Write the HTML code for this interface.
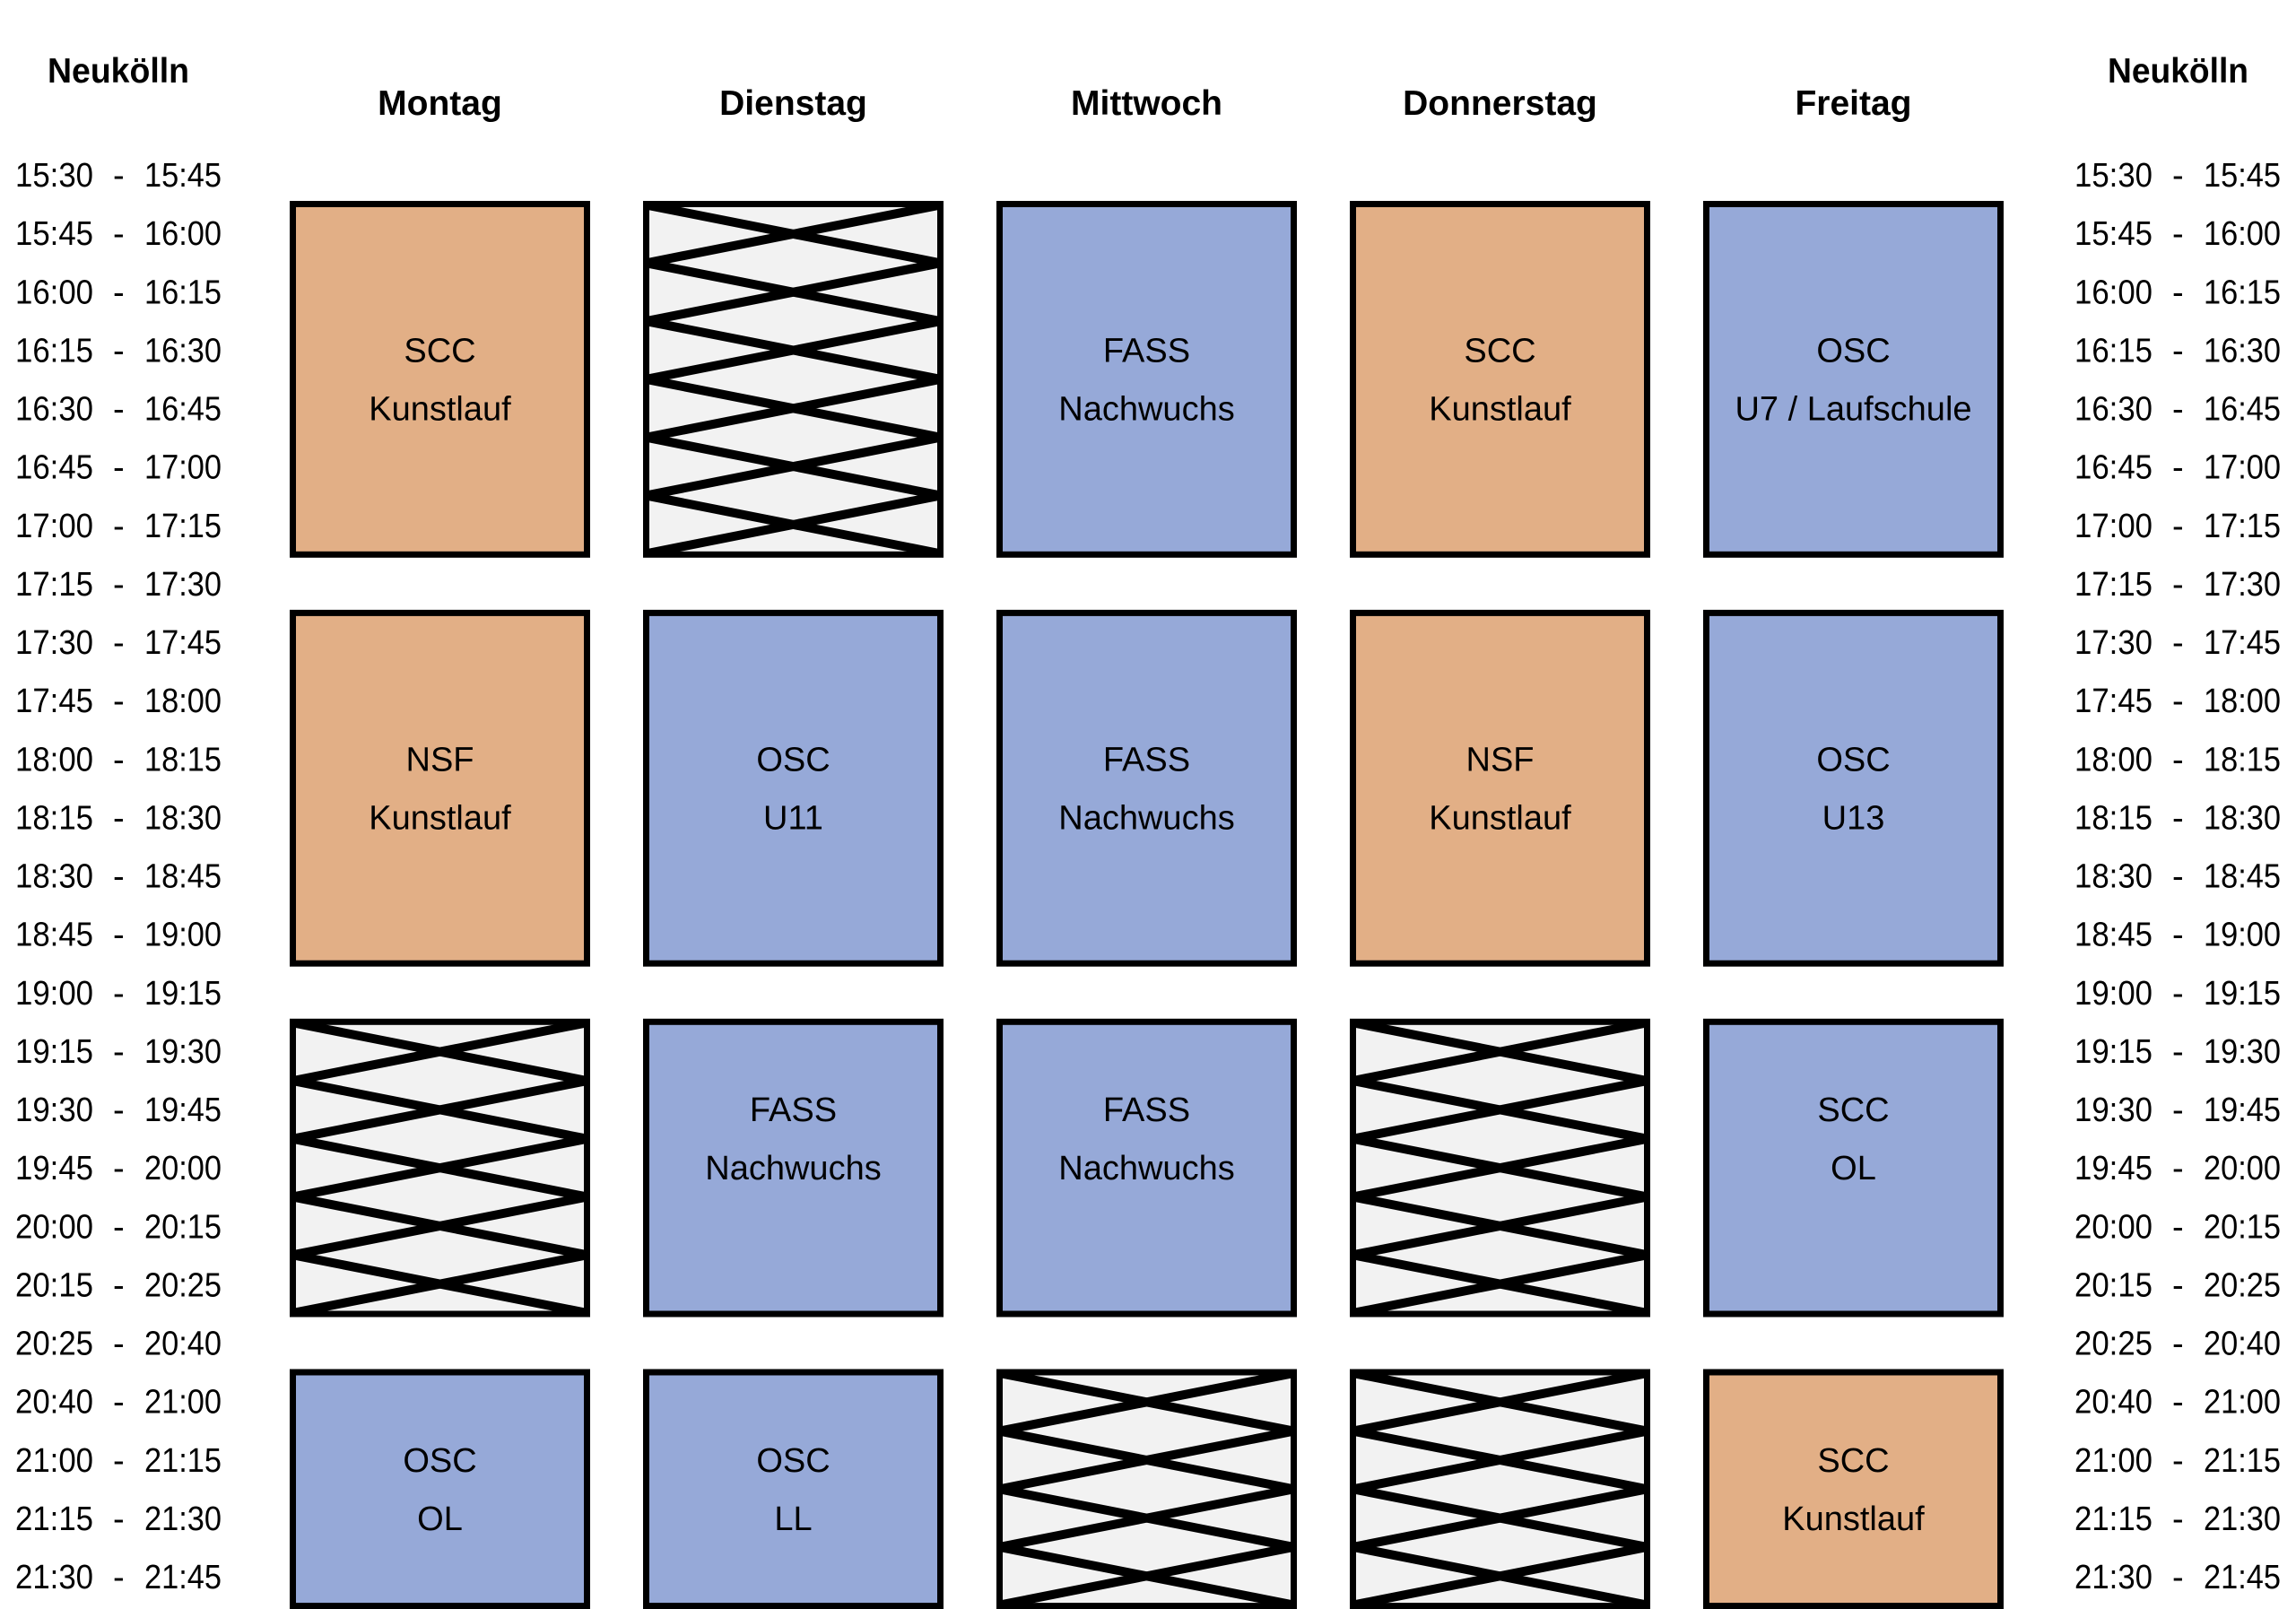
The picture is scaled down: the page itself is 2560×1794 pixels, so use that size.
<!DOCTYPE html>
<html>
<head>
<meta charset="utf-8">
<style>
  html, body { margin: 0; padding: 0; background: #ffffff; }
  svg { display: block; }
  .t { font-family: "Liberation Sans", Arial, sans-serif; font-size: 38px; fill: #000; }
  .h { font-family: "Liberation Sans", Arial, sans-serif; font-size: 39px; font-weight: bold; fill: #000; }
  .bx { font-family: "Liberation Sans", Arial, sans-serif; font-size: 38px; fill: #000; text-anchor: middle; }
  .or { fill: #E2AF86; stroke: #000; stroke-width: 7; }
  .bl { fill: #96A9D8; stroke: #000; stroke-width: 7; }
  .hf { fill: #F2F2F2; }
  .hb { fill: none; stroke: #000; stroke-width: 7; }
  .hl { fill: none; stroke: #000; stroke-width: 10; stroke-linejoin: miter; }
</style>
</head>
<body>
<svg xmlns="http://www.w3.org/2000/svg" width="2560" height="1794" viewBox="0 0 2560 1794">
  <rect x="0" y="0" width="2560" height="1794" fill="#ffffff"/>

  <defs>
    <clipPath id="cDiA"><rect x="720.5" y="227.5" width="328" height="390.8"/></clipPath>
    <clipPath id="cMoC"><rect x="326.5" y="1139.3" width="328" height="325.7"/></clipPath>
    <clipPath id="cDoC"><rect x="1508.5" y="1139.3" width="328" height="325.7"/></clipPath>
    <clipPath id="cMiD"><rect x="1114.5" y="1530" width="328" height="260.6"/></clipPath>
    <clipPath id="cDoD"><rect x="1508.5" y="1530" width="328" height="260.6"/></clipPath>
  </defs>

  <!-- Headers -->
  <text class="h" x="53" y="92" textLength="158" lengthAdjust="spacingAndGlyphs">Neukölln</text>
  <text class="h" x="2350" y="92" textLength="157" lengthAdjust="spacingAndGlyphs">Neukölln</text>
  <text class="h" x="490.5" y="128" text-anchor="middle">Montag</text>
  <text class="h" x="884.5" y="128" text-anchor="middle">Dienstag</text>
  <text class="h" x="1278.5" y="128" text-anchor="middle">Mittwoch</text>
  <text class="h" x="1672.5" y="128" text-anchor="middle">Donnerstag</text>
  <text class="h" x="2066.5" y="128" text-anchor="middle">Freitag</text>

  <!-- Left time labels -->
  <g class="t">
    <text x="17" y="208" textLength="87" lengthAdjust="spacingAndGlyphs">15:30</text><text x="126" y="208">-</text><text x="161" y="208" textLength="86" lengthAdjust="spacingAndGlyphs">15:45</text>
    <text x="17" y="273.1" textLength="87" lengthAdjust="spacingAndGlyphs">15:45</text><text x="126" y="273.1">-</text><text x="161" y="273.1" textLength="86" lengthAdjust="spacingAndGlyphs">16:00</text>
    <text x="17" y="338.3" textLength="87" lengthAdjust="spacingAndGlyphs">16:00</text><text x="126" y="338.3">-</text><text x="161" y="338.3" textLength="86" lengthAdjust="spacingAndGlyphs">16:15</text>
    <text x="17" y="403.4" textLength="87" lengthAdjust="spacingAndGlyphs">16:15</text><text x="126" y="403.4">-</text><text x="161" y="403.4" textLength="86" lengthAdjust="spacingAndGlyphs">16:30</text>
    <text x="17" y="468.5" textLength="87" lengthAdjust="spacingAndGlyphs">16:30</text><text x="126" y="468.5">-</text><text x="161" y="468.5" textLength="86" lengthAdjust="spacingAndGlyphs">16:45</text>
    <text x="17" y="533.6" textLength="87" lengthAdjust="spacingAndGlyphs">16:45</text><text x="126" y="533.6">-</text><text x="161" y="533.6" textLength="86" lengthAdjust="spacingAndGlyphs">17:00</text>
    <text x="17" y="598.8" textLength="87" lengthAdjust="spacingAndGlyphs">17:00</text><text x="126" y="598.8">-</text><text x="161" y="598.8" textLength="86" lengthAdjust="spacingAndGlyphs">17:15</text>
    <text x="17" y="663.9" textLength="87" lengthAdjust="spacingAndGlyphs">17:15</text><text x="126" y="663.9">-</text><text x="161" y="663.9" textLength="86" lengthAdjust="spacingAndGlyphs">17:30</text>
    <text x="17" y="729" textLength="87" lengthAdjust="spacingAndGlyphs">17:30</text><text x="126" y="729">-</text><text x="161" y="729" textLength="86" lengthAdjust="spacingAndGlyphs">17:45</text>
    <text x="17" y="794.1" textLength="87" lengthAdjust="spacingAndGlyphs">17:45</text><text x="126" y="794.1">-</text><text x="161" y="794.1" textLength="86" lengthAdjust="spacingAndGlyphs">18:00</text>
    <text x="17" y="859.3" textLength="87" lengthAdjust="spacingAndGlyphs">18:00</text><text x="126" y="859.3">-</text><text x="161" y="859.3" textLength="86" lengthAdjust="spacingAndGlyphs">18:15</text>
    <text x="17" y="924.4" textLength="87" lengthAdjust="spacingAndGlyphs">18:15</text><text x="126" y="924.4">-</text><text x="161" y="924.4" textLength="86" lengthAdjust="spacingAndGlyphs">18:30</text>
    <text x="17" y="989.5" textLength="87" lengthAdjust="spacingAndGlyphs">18:30</text><text x="126" y="989.5">-</text><text x="161" y="989.5" textLength="86" lengthAdjust="spacingAndGlyphs">18:45</text>
    <text x="17" y="1054.6" textLength="87" lengthAdjust="spacingAndGlyphs">18:45</text><text x="126" y="1054.6">-</text><text x="161" y="1054.6" textLength="86" lengthAdjust="spacingAndGlyphs">19:00</text>
    <text x="17" y="1119.8" textLength="87" lengthAdjust="spacingAndGlyphs">19:00</text><text x="126" y="1119.8">-</text><text x="161" y="1119.8" textLength="86" lengthAdjust="spacingAndGlyphs">19:15</text>
    <text x="17" y="1184.9" textLength="87" lengthAdjust="spacingAndGlyphs">19:15</text><text x="126" y="1184.9">-</text><text x="161" y="1184.9" textLength="86" lengthAdjust="spacingAndGlyphs">19:30</text>
    <text x="17" y="1250" textLength="87" lengthAdjust="spacingAndGlyphs">19:30</text><text x="126" y="1250">-</text><text x="161" y="1250" textLength="86" lengthAdjust="spacingAndGlyphs">19:45</text>
    <text x="17" y="1315.1" textLength="87" lengthAdjust="spacingAndGlyphs">19:45</text><text x="126" y="1315.1">-</text><text x="161" y="1315.1" textLength="86" lengthAdjust="spacingAndGlyphs">20:00</text>
    <text x="17" y="1380.3" textLength="87" lengthAdjust="spacingAndGlyphs">20:00</text><text x="126" y="1380.3">-</text><text x="161" y="1380.3" textLength="86" lengthAdjust="spacingAndGlyphs">20:15</text>
    <text x="17" y="1445.4" textLength="87" lengthAdjust="spacingAndGlyphs">20:15</text><text x="126" y="1445.4">-</text><text x="161" y="1445.4" textLength="86" lengthAdjust="spacingAndGlyphs">20:25</text>
    <text x="17" y="1510.5" textLength="87" lengthAdjust="spacingAndGlyphs">20:25</text><text x="126" y="1510.5">-</text><text x="161" y="1510.5" textLength="86" lengthAdjust="spacingAndGlyphs">20:40</text>
    <text x="17" y="1575.6" textLength="87" lengthAdjust="spacingAndGlyphs">20:40</text><text x="126" y="1575.6">-</text><text x="161" y="1575.6" textLength="86" lengthAdjust="spacingAndGlyphs">21:00</text>
    <text x="17" y="1640.8" textLength="87" lengthAdjust="spacingAndGlyphs">21:00</text><text x="126" y="1640.8">-</text><text x="161" y="1640.8" textLength="86" lengthAdjust="spacingAndGlyphs">21:15</text>
    <text x="17" y="1705.9" textLength="87" lengthAdjust="spacingAndGlyphs">21:15</text><text x="126" y="1705.9">-</text><text x="161" y="1705.9" textLength="86" lengthAdjust="spacingAndGlyphs">21:30</text>
    <text x="17" y="1771" textLength="87" lengthAdjust="spacingAndGlyphs">21:30</text><text x="126" y="1771">-</text><text x="161" y="1771" textLength="86" lengthAdjust="spacingAndGlyphs">21:45</text>
  </g>

  <!-- Right time labels -->
  <g class="t">
    <text x="2313" y="208" textLength="87" lengthAdjust="spacingAndGlyphs">15:30</text><text x="2422" y="208">-</text><text x="2457" y="208" textLength="86" lengthAdjust="spacingAndGlyphs">15:45</text>
    <text x="2313" y="273.1" textLength="87" lengthAdjust="spacingAndGlyphs">15:45</text><text x="2422" y="273.1">-</text><text x="2457" y="273.1" textLength="86" lengthAdjust="spacingAndGlyphs">16:00</text>
    <text x="2313" y="338.3" textLength="87" lengthAdjust="spacingAndGlyphs">16:00</text><text x="2422" y="338.3">-</text><text x="2457" y="338.3" textLength="86" lengthAdjust="spacingAndGlyphs">16:15</text>
    <text x="2313" y="403.4" textLength="87" lengthAdjust="spacingAndGlyphs">16:15</text><text x="2422" y="403.4">-</text><text x="2457" y="403.4" textLength="86" lengthAdjust="spacingAndGlyphs">16:30</text>
    <text x="2313" y="468.5" textLength="87" lengthAdjust="spacingAndGlyphs">16:30</text><text x="2422" y="468.5">-</text><text x="2457" y="468.5" textLength="86" lengthAdjust="spacingAndGlyphs">16:45</text>
    <text x="2313" y="533.6" textLength="87" lengthAdjust="spacingAndGlyphs">16:45</text><text x="2422" y="533.6">-</text><text x="2457" y="533.6" textLength="86" lengthAdjust="spacingAndGlyphs">17:00</text>
    <text x="2313" y="598.8" textLength="87" lengthAdjust="spacingAndGlyphs">17:00</text><text x="2422" y="598.8">-</text><text x="2457" y="598.8" textLength="86" lengthAdjust="spacingAndGlyphs">17:15</text>
    <text x="2313" y="663.9" textLength="87" lengthAdjust="spacingAndGlyphs">17:15</text><text x="2422" y="663.9">-</text><text x="2457" y="663.9" textLength="86" lengthAdjust="spacingAndGlyphs">17:30</text>
    <text x="2313" y="729" textLength="87" lengthAdjust="spacingAndGlyphs">17:30</text><text x="2422" y="729">-</text><text x="2457" y="729" textLength="86" lengthAdjust="spacingAndGlyphs">17:45</text>
    <text x="2313" y="794.1" textLength="87" lengthAdjust="spacingAndGlyphs">17:45</text><text x="2422" y="794.1">-</text><text x="2457" y="794.1" textLength="86" lengthAdjust="spacingAndGlyphs">18:00</text>
    <text x="2313" y="859.3" textLength="87" lengthAdjust="spacingAndGlyphs">18:00</text><text x="2422" y="859.3">-</text><text x="2457" y="859.3" textLength="86" lengthAdjust="spacingAndGlyphs">18:15</text>
    <text x="2313" y="924.4" textLength="87" lengthAdjust="spacingAndGlyphs">18:15</text><text x="2422" y="924.4">-</text><text x="2457" y="924.4" textLength="86" lengthAdjust="spacingAndGlyphs">18:30</text>
    <text x="2313" y="989.5" textLength="87" lengthAdjust="spacingAndGlyphs">18:30</text><text x="2422" y="989.5">-</text><text x="2457" y="989.5" textLength="86" lengthAdjust="spacingAndGlyphs">18:45</text>
    <text x="2313" y="1054.6" textLength="87" lengthAdjust="spacingAndGlyphs">18:45</text><text x="2422" y="1054.6">-</text><text x="2457" y="1054.6" textLength="86" lengthAdjust="spacingAndGlyphs">19:00</text>
    <text x="2313" y="1119.8" textLength="87" lengthAdjust="spacingAndGlyphs">19:00</text><text x="2422" y="1119.8">-</text><text x="2457" y="1119.8" textLength="86" lengthAdjust="spacingAndGlyphs">19:15</text>
    <text x="2313" y="1184.9" textLength="87" lengthAdjust="spacingAndGlyphs">19:15</text><text x="2422" y="1184.9">-</text><text x="2457" y="1184.9" textLength="86" lengthAdjust="spacingAndGlyphs">19:30</text>
    <text x="2313" y="1250" textLength="87" lengthAdjust="spacingAndGlyphs">19:30</text><text x="2422" y="1250">-</text><text x="2457" y="1250" textLength="86" lengthAdjust="spacingAndGlyphs">19:45</text>
    <text x="2313" y="1315.1" textLength="87" lengthAdjust="spacingAndGlyphs">19:45</text><text x="2422" y="1315.1">-</text><text x="2457" y="1315.1" textLength="86" lengthAdjust="spacingAndGlyphs">20:00</text>
    <text x="2313" y="1380.3" textLength="87" lengthAdjust="spacingAndGlyphs">20:00</text><text x="2422" y="1380.3">-</text><text x="2457" y="1380.3" textLength="86" lengthAdjust="spacingAndGlyphs">20:15</text>
    <text x="2313" y="1445.4" textLength="87" lengthAdjust="spacingAndGlyphs">20:15</text><text x="2422" y="1445.4">-</text><text x="2457" y="1445.4" textLength="86" lengthAdjust="spacingAndGlyphs">20:25</text>
    <text x="2313" y="1510.5" textLength="87" lengthAdjust="spacingAndGlyphs">20:25</text><text x="2422" y="1510.5">-</text><text x="2457" y="1510.5" textLength="86" lengthAdjust="spacingAndGlyphs">20:40</text>
    <text x="2313" y="1575.6" textLength="87" lengthAdjust="spacingAndGlyphs">20:40</text><text x="2422" y="1575.6">-</text><text x="2457" y="1575.6" textLength="86" lengthAdjust="spacingAndGlyphs">21:00</text>
    <text x="2313" y="1640.8" textLength="87" lengthAdjust="spacingAndGlyphs">21:00</text><text x="2422" y="1640.8">-</text><text x="2457" y="1640.8" textLength="86" lengthAdjust="spacingAndGlyphs">21:15</text>
    <text x="2313" y="1705.9" textLength="87" lengthAdjust="spacingAndGlyphs">21:15</text><text x="2422" y="1705.9">-</text><text x="2457" y="1705.9" textLength="86" lengthAdjust="spacingAndGlyphs">21:30</text>
    <text x="2313" y="1771" textLength="87" lengthAdjust="spacingAndGlyphs">21:30</text><text x="2422" y="1771">-</text><text x="2457" y="1771" textLength="86" lengthAdjust="spacingAndGlyphs">21:45</text>
  </g>

  <!-- ===== Row A (15:45 - 17:15) ===== -->
  <rect class="or" x="326.5" y="227.5" width="328" height="390.8"/>
  <text class="bx" x="490.5" y="403.4">SCC</text>
  <text class="bx" x="490.5" y="468.5">Kunstlauf</text>

  <rect class="hf" x="720.5" y="227.5" width="328" height="390.8"/>
  <g clip-path="url(#cDiA)">
    <polyline class="hl" points="720.5,228.5 1048.5,293.3 720.5,358.1 1048.5,422.9 720.5,487.7 1048.5,552.5 720.5,617.3"/>
    <polyline class="hl" points="1048.5,228.5 720.5,293.3 1048.5,358.1 720.5,422.9 1048.5,487.7 720.5,552.5 1048.5,617.3"/>
  </g>
  <rect class="hb" x="720.5" y="227.5" width="328" height="390.8"/>

  <rect class="bl" x="1114.5" y="227.5" width="328" height="390.8"/>
  <text class="bx" x="1278.5" y="403.4">FASS</text>
  <text class="bx" x="1278.5" y="468.5">Nachwuchs</text>

  <rect class="or" x="1508.5" y="227.5" width="328" height="390.8"/>
  <text class="bx" x="1672.5" y="403.4">SCC</text>
  <text class="bx" x="1672.5" y="468.5">Kunstlauf</text>

  <rect class="bl" x="1902.5" y="227.5" width="328" height="390.8"/>
  <text class="bx" x="2066.5" y="403.4">OSC</text>
  <text class="bx" x="2066.5" y="468.5">U7 / Laufschule</text>

  <!-- ===== Row B (17:30 - 19:00) ===== -->
  <rect class="or" x="326.5" y="683.4" width="328" height="390.8"/>
  <text class="bx" x="490.5" y="859.3">NSF</text>
  <text class="bx" x="490.5" y="924.4">Kunstlauf</text>

  <rect class="bl" x="720.5" y="683.4" width="328" height="390.8"/>
  <text class="bx" x="884.5" y="859.3">OSC</text>
  <text class="bx" x="884.5" y="924.4">U11</text>

  <rect class="bl" x="1114.5" y="683.4" width="328" height="390.8"/>
  <text class="bx" x="1278.5" y="859.3">FASS</text>
  <text class="bx" x="1278.5" y="924.4">Nachwuchs</text>

  <rect class="or" x="1508.5" y="683.4" width="328" height="390.8"/>
  <text class="bx" x="1672.5" y="859.3">NSF</text>
  <text class="bx" x="1672.5" y="924.4">Kunstlauf</text>

  <rect class="bl" x="1902.5" y="683.4" width="328" height="390.8"/>
  <text class="bx" x="2066.5" y="859.3">OSC</text>
  <text class="bx" x="2066.5" y="924.4">U13</text>

  <!-- ===== Row C (19:15 - 20:25) ===== -->
  <rect class="hf" x="326.5" y="1139.3" width="328" height="325.7"/>
  <g clip-path="url(#cMoC)">
    <polyline class="hl" points="326.5,1140.3 654.5,1205.04 326.5,1269.78 654.5,1334.52 326.5,1399.26 654.5,1464"/>
    <polyline class="hl" points="654.5,1140.3 326.5,1205.04 654.5,1269.78 326.5,1334.52 654.5,1399.26 326.5,1464"/>
  </g>
  <rect class="hb" x="326.5" y="1139.3" width="328" height="325.7"/>

  <rect class="bl" x="720.5" y="1139.3" width="328" height="325.7"/>
  <text class="bx" x="884.5" y="1250">FASS</text>
  <text class="bx" x="884.5" y="1315.1">Nachwuchs</text>

  <rect class="bl" x="1114.5" y="1139.3" width="328" height="325.7"/>
  <text class="bx" x="1278.5" y="1250">FASS</text>
  <text class="bx" x="1278.5" y="1315.1">Nachwuchs</text>

  <rect class="hf" x="1508.5" y="1139.3" width="328" height="325.7"/>
  <g clip-path="url(#cDoC)">
    <polyline class="hl" points="1508.5,1140.3 1836.5,1205.04 1508.5,1269.78 1836.5,1334.52 1508.5,1399.26 1836.5,1464"/>
    <polyline class="hl" points="1836.5,1140.3 1508.5,1205.04 1836.5,1269.78 1508.5,1334.52 1836.5,1399.26 1508.5,1464"/>
  </g>
  <rect class="hb" x="1508.5" y="1139.3" width="328" height="325.7"/>

  <rect class="bl" x="1902.5" y="1139.3" width="328" height="325.7"/>
  <text class="bx" x="2066.5" y="1250">SCC</text>
  <text class="bx" x="2066.5" y="1315.1">OL</text>

  <!-- ===== Row D (20:40 - 21:45) ===== -->
  <rect class="bl" x="326.5" y="1530" width="328" height="260.6"/>
  <text class="bx" x="490.5" y="1640.8">OSC</text>
  <text class="bx" x="490.5" y="1705.9">OL</text>

  <rect class="bl" x="720.5" y="1530" width="328" height="260.6"/>
  <text class="bx" x="884.5" y="1640.8">OSC</text>
  <text class="bx" x="884.5" y="1705.9">LL</text>

  <rect class="hf" x="1114.5" y="1530" width="328" height="260.6"/>
  <g clip-path="url(#cMiD)">
    <polyline class="hl" points="1114.5,1531 1442.5,1595.65 1114.5,1660.3 1442.5,1724.95 1114.5,1789.6"/>
    <polyline class="hl" points="1442.5,1531 1114.5,1595.65 1442.5,1660.3 1114.5,1724.95 1442.5,1789.6"/>
  </g>
  <rect class="hb" x="1114.5" y="1530" width="328" height="260.6"/>

  <rect class="hf" x="1508.5" y="1530" width="328" height="260.6"/>
  <g clip-path="url(#cDoD)">
    <polyline class="hl" points="1508.5,1531 1836.5,1595.65 1508.5,1660.3 1836.5,1724.95 1508.5,1789.6"/>
    <polyline class="hl" points="1836.5,1531 1508.5,1595.65 1836.5,1660.3 1508.5,1724.95 1836.5,1789.6"/>
  </g>
  <rect class="hb" x="1508.5" y="1530" width="328" height="260.6"/>

  <rect class="or" x="1902.5" y="1530" width="328" height="260.6"/>
  <text class="bx" x="2066.5" y="1640.8">SCC</text>
  <text class="bx" x="2066.5" y="1705.9">Kunstlauf</text>
</svg>
</body>
</html>
